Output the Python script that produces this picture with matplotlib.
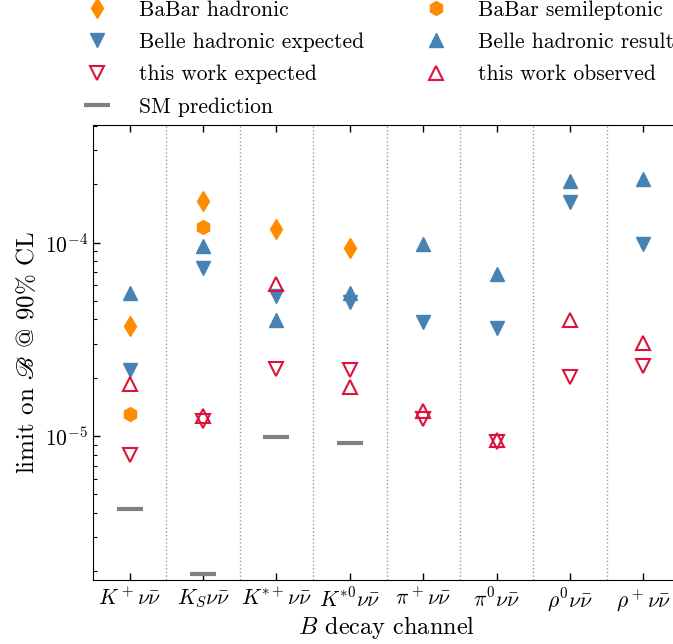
import matplotlib
matplotlib.use("Agg")
import matplotlib.pyplot as plt
from matplotlib.ticker import NullFormatter
import numpy as np
import io

plt.rcParams['font.family'] = 'cmr10'
plt.rcParams['mathtext.fontset'] = 'cm'
plt.rcParams['axes.formatter.use_mathtext'] = True
plt.rcParams['font.size'] = 15.5

channels = [r'$K^+\nu\bar{\nu}$', r'$K_S\nu\bar{\nu}$', r'$K^{*+}\nu\bar{\nu}$',
            r'$K^{*0}\nu\bar{\nu}$', r'$\pi^+\nu\bar{\nu}$', r'$\pi^0\nu\bar{\nu}$',
            r'$\rho^0\nu\bar{\nu}$', r'$\rho^+\nu\bar{\nu}$']

nan = np.nan
babar_hadronic = [3.7e-5, 1.64e-4, 1.17e-4, 9.4e-5, nan, nan, nan, nan]
babar_semilep = [1.3e-5, 1.2e-4, nan, nan, nan, nan, nan, nan]
belle_expected = [2.2e-5, 7.4e-5, 5.3e-5, 4.95e-5, 3.9e-5, 3.6e-5, 1.61e-4, 9.8e-5]
belle_result = [5.45e-5, 9.6e-5, 3.96e-5, 5.45e-5, 9.8e-5, 6.9e-5, 2.08e-4, 2.14e-4]
this_expected = [8.0e-6, 1.19e-5, 2.22e-5, 2.18e-5, 1.22e-5, 9.3e-6, 2.01e-5, 2.31e-5]
this_observed = [1.86e-5, 1.27e-5, 6.08e-5, 1.79e-5, 1.35e-5, 9.5e-6, 3.96e-5, 3.02e-5]
sm_prediction = [4.2e-6, 1.93e-6, 9.9e-6, 9.17e-6, nan, nan, nan, nan]

orange = '#FF8C00'
blue = '#4682B4'
red = '#DC143C'
gray = '#808080'


def build(ylabel_mode):
    fig = plt.figure(figsize=(6.73, 6.44), dpi=100)
    ax = fig.add_axes([93/673, 64/644, 587/673, 455/644])
    x = np.arange(len(channels))

    h1, = ax.plot(x, babar_hadronic, 'd', color=orange, ms=10, mec=orange, label='BaBar hadronic', ls='none')
    h2, = ax.plot(x, babar_semilep, 'h', color=orange, ms=10, mec=orange, label='BaBar semileptonic', ls='none')
    h3, = ax.plot(x, belle_expected, 'v', color=blue, ms=10, mec=blue, label='Belle hadronic expected', ls='none')
    h4, = ax.plot(x, belle_result, '^', color=blue, ms=10, mec=blue, label='Belle hadronic result', ls='none')
    h5, = ax.plot(x, this_expected, 'v', mfc='none', mec=red, mew=1.5, ms=10, label='this work expected', ls='none')
    h6, = ax.plot(x, this_observed, '^', mfc='none', mec=red, mew=1.5, ms=10, label='this work observed', ls='none')
    h7, = ax.plot(x, sm_prediction, '_', color=gray, mec=gray, ms=19, mew=3, label='SM prediction', ls='none')

    for xd in np.arange(0.5, len(channels) - 0.5, 1):
        ax.axvline(xd, color='#939aa6', ls=':', lw=1.0)

    ax.set_yscale('log')
    ax.set_ylim(1.8e-6, 4.05e-4)
    ax.set_xlim(-0.5, 7.5)
    ax.set_xticks(x)
    ax.set_xticklabels(channels)
    ax.yaxis.set_minor_formatter(NullFormatter())
    ax.tick_params(which='both', direction='in', top=True, right=True)
    ax.tick_params(which='major', length=5, width=1)
    ax.tick_params(which='minor', length=3, width=0.8)
    ax.tick_params(axis='x', pad=5)
    if ylabel_mode == 0:
        ax.set_ylabel(r'limit on $\mathscr{B}$ @ 90% CL', fontsize=18,
                      math_fontfamily='stix', labelpad=4)
    else:
        ax.set_ylabel(r'limit on $\mathcal{B}$ @ 90% CL', fontsize=18, labelpad=4)
    ax.set_xlabel(r'$B$ decay channel', fontsize=17.5, labelpad=0)

    handles = [h1, h3, h5, h7, h2, h4, h6]
    fig.legend(handles=handles, labels=[h.get_label() for h in handles], ncol=2,
               loc='upper left', bbox_to_anchor=(75/673, 1 - 0/644), frameon=False,
               borderpad=0, borderaxespad=0, handletextpad=0.95, columnspacing=2.35,
               labelspacing=0.6, numpoints=1)
    return fig


try:
    fig = build(0)
    fig.savefig(io.BytesIO(), dpi=100)
except Exception:
    plt.close('all')
    fig = build(1)

fig.savefig('out.png', dpi=100)
